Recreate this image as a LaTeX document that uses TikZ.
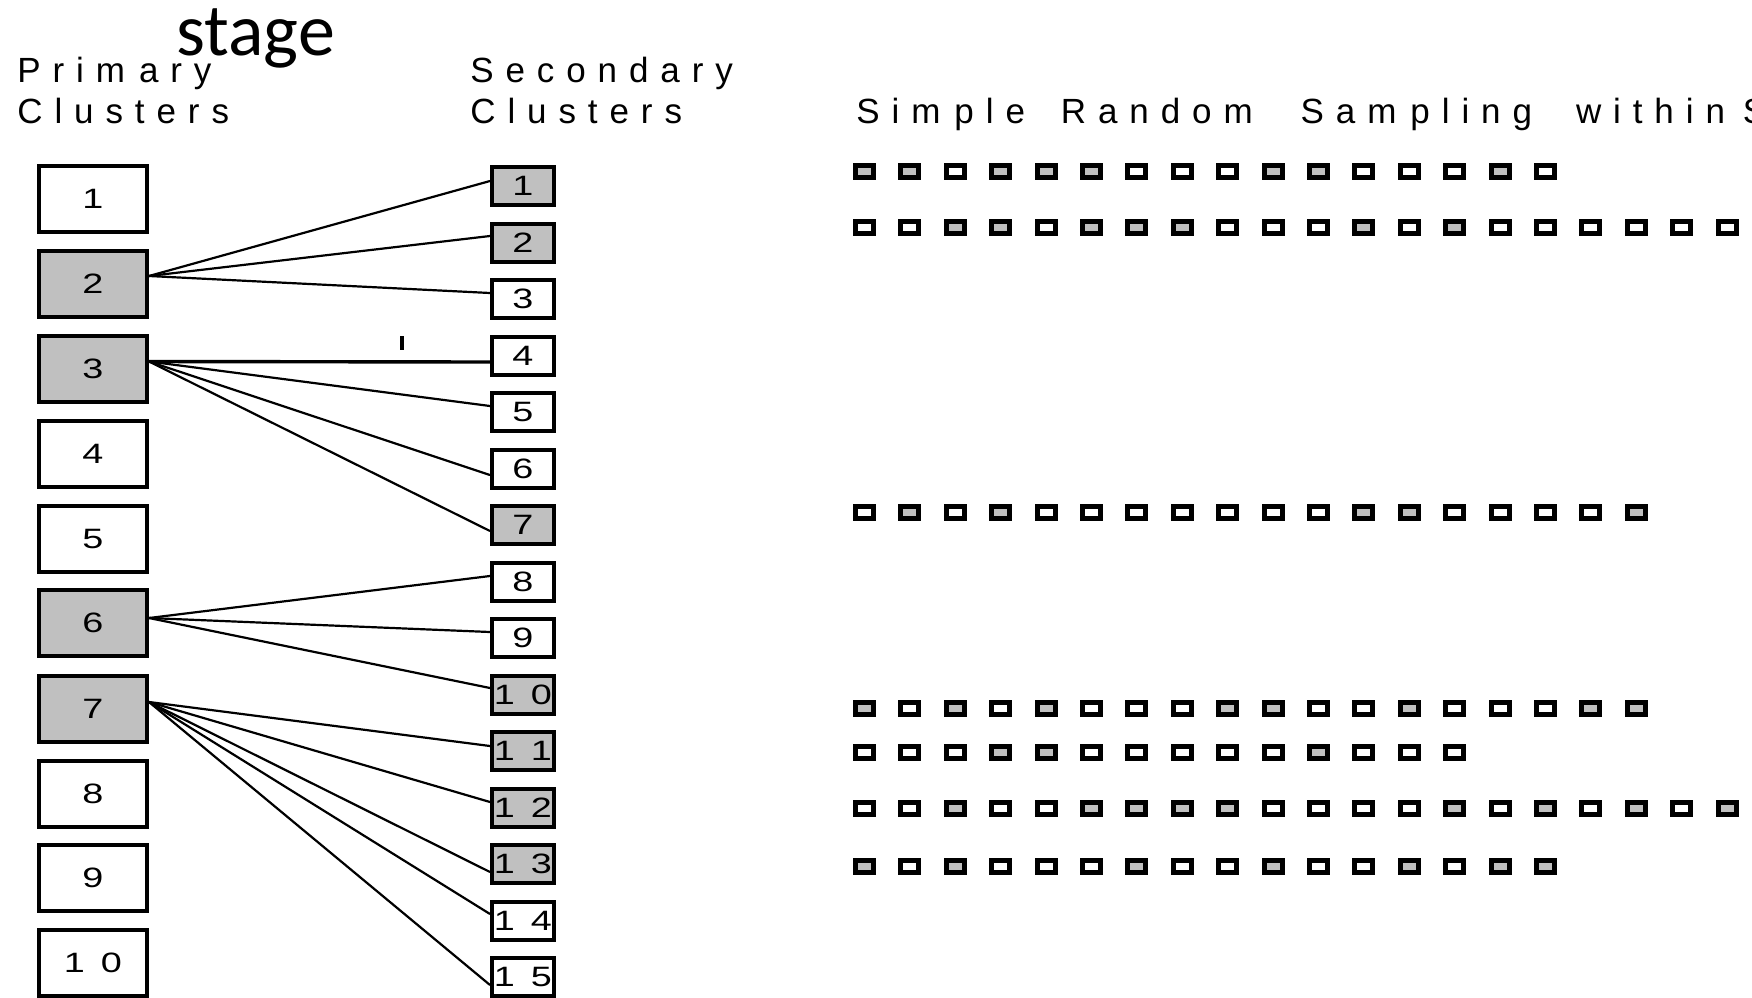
\documentclass[tikz,border=0pt]{standalone}
\usepackage{fontspec}
\setmainfont{Liberation Sans}
\newfontfamily\calib{Carlito}
\newfontfamily\hdfont[LetterSpace=34]{Liberation Sans}
\newfontfamily\nmfont[FakeStretch=1.35]{Liberation Sans}
\usetikzlibrary{calc}
\definecolor{G}{HTML}{C0C0C0}
\definecolor{W}{HTML}{FFFFFF}
\newcommand\mgap{\hspace*{7pt}}
\begin{document}
\begin{tikzpicture}[x=0.5pt,y=-0.5pt,
  pbox/.style={draw,line width=2pt,minimum width=54pt,minimum height=33pt,inner sep=0pt,font=\nmfont\fontsize{14pt}{14pt}\selectfont},
  sbox/.style={draw,line width=2pt,minimum width=31pt,minimum height=19pt,inner sep=0pt,font=\nmfont\fontsize{14pt}{14pt}\selectfont},
  hd/.style={anchor=base west,inner sep=0pt,font=\hdfont\fontsize{17.5pt}{17.5pt}\selectfont},
  conn/.style={line width=1.1pt},
  thickconn/.style={line width=1.7pt},
  sq/.style={line width=2.5pt}]
\useasboundingbox (0,0) rectangle (1752,997);

% titles
\node[anchor=base west,inner sep=0pt,font=\calib\fontsize{37pt}{37pt}\selectfont] (stage) at (176,55) {stage};
\node[hd] (prim) at (17,82) {Prim\mgap ary};
\node[hd] (pcl) at (17,123) {Clusters};
\node[hd] (sec) at (470,82) {Secondary};
\node[hd] (scl) at (470,123) {Clusters};
\node[hd] (srs) at (856,123) {Sim\mgap ple\hspace*{18pt}Random\hspace*{24pt}Sam\mgap pling\hspace*{22pt}within\hspace*{9pt}S};

% primary clusters
\node[pbox] (p1) at (93,199) {1};
\node[pbox,fill=G] (p2) at (93,284) {2};
\node[pbox,fill=G] (p3) at (93,369) {3};
\node[pbox] (p4) at (93,454) {4};
\node[pbox] (p5) at (93,539) {5};
\node[pbox,fill=G] (p6) at (93,623) {6};
\node[pbox,fill=G] (p7) at (93,709) {7};
\node[pbox] (p8) at (93,794) {8};
\node[pbox] (p9) at (93,878) {9};
\node[pbox] (p10) at (93,963) {1\kern8pt0};

% secondary clusters
\node[sbox,fill=G] (s1) at (523,186) {1};
\node[sbox,fill=G] (s2) at (523,242.5) {2};
\node[sbox] (s3) at (523,299) {3};
\node[sbox] (s4) at (523,355.5) {4};
\node[sbox] (s5) at (523,412) {5};
\node[sbox] (s6) at (523,468.5) {6};
\node[sbox,fill=G] (s7) at (523,525) {7};
\node[sbox] (s8) at (523,581.5) {8};
\node[sbox] (s9) at (523,638) {9};
\node[sbox,fill=G] (s10) at (523,694.5) {1\kern8pt0};
\node[sbox,fill=G] (s11) at (523,751) {1\kern8pt1};
\node[sbox,fill=G] (s12) at (523,807.5) {1\kern8pt2};
\node[sbox,fill=G] (s13) at (523,864) {1\kern8pt3};
\node[sbox] (s14) at (523,920.5) {1\kern8pt4};
\node[sbox] (s15) at (523,977) {1\kern8pt5};

% connectors
\draw[conn] ($(p2.east)+(0,-8)$) -- ($(s1.west)+(0,-5)$);
\draw[conn] ($(p2.east)+(0,-8)$) -- ($(s2.west)+(0,-6.5)$);
\draw[conn] ($(p2.east)+(0,-8)$) -- ($(s3.west)+(0,-6)$);
\draw[thickconn] ($(p3.east)+(0,-7.5)$) -- ($(s4.west)+(0,6.5)$);
\draw[conn] ($(p3.east)+(0,-7.5)$) -- ($(s5.west)+(0,-6)$);
\draw[conn] ($(p3.east)+(0,-7.5)$) -- ($(s6.west)+(0,6.5)$);
\draw[conn] ($(p3.east)+(0,-7.5)$) -- ($(s7.west)+(0,6)$);
\draw[conn] ($(p6.east)+(0,-5)$) -- ($(s8.west)+(0,-5.5)$);
\draw[conn] ($(p6.east)+(0,-5)$) -- ($(s9.west)+(0,-6)$);
\draw[conn] ($(p6.east)+(0,-5)$) -- ($(s10.west)+(0,-6.5)$);
\draw[conn] ($(p7.east)+(0,-7)$) -- ($(s11.west)+(0,-5)$);
\draw[conn] ($(p7.east)+(0,-7)$) -- ($(s12.west)+(0,-5.5)$);
\draw[conn] ($(p7.east)+(0,-7)$) -- ($(s13.west)+(0,8)$);
\draw[conn] ($(p7.east)+(0,-7)$) -- ($(s14.west)+(0,-6.5)$);
\draw[conn] ($(p7.east)+(0,-7)$) -- ($(s15.west)+(0,8)$);

% small tick mark
\draw[line width=2pt] (402,336) -- (402,350);

% sampled units
\foreach \c [count=\i from 0] in {G,G,W,G,G,G,W,W,W,G,G,W,W,W,G,W}
  \filldraw[sq,fill=\c] ({864.5+45.4*\i-9},165) rectangle ({864.5+45.4*\i+9},177);
\foreach \c [count=\i from 0] in {W,W,G,G,W,G,G,G,W,W,W,G,W,G,W,W,W,W,W,W}
  \filldraw[sq,fill=\c] ({864.5+45.4*\i-9},221) rectangle ({864.5+45.4*\i+9},233);
\foreach \c [count=\i from 0] in {W,G,W,G,W,W,W,W,W,W,W,G,G,W,W,W,W,G}
  \filldraw[sq,fill=\c] ({864.5+45.4*\i-9},506) rectangle ({864.5+45.4*\i+9},518);
\foreach \c [count=\i from 0] in {G,W,G,W,G,W,W,W,G,G,W,W,G,W,W,W,G,G}
  \filldraw[sq,fill=\c] ({864.5+45.4*\i-9},702) rectangle ({864.5+45.4*\i+9},714);
\foreach \c [count=\i from 0] in {W,W,W,G,G,W,W,W,W,W,G,W,W,W}
  \filldraw[sq,fill=\c] ({864.5+45.4*\i-9},746) rectangle ({864.5+45.4*\i+9},758);
\foreach \c [count=\i from 0] in {W,W,G,W,W,G,G,G,G,W,W,W,W,G,W,G,W,G,W,G}
  \filldraw[sq,fill=\c] ({864.5+45.4*\i-9},802) rectangle ({864.5+45.4*\i+9},814);
\foreach \c [count=\i from 0] in {G,W,G,W,W,W,G,W,W,G,W,W,G,W,G,G}
  \filldraw[sq,fill=\c] ({864.5+45.4*\i-9},860) rectangle ({864.5+45.4*\i+9},872);
\end{tikzpicture}
\end{document}
